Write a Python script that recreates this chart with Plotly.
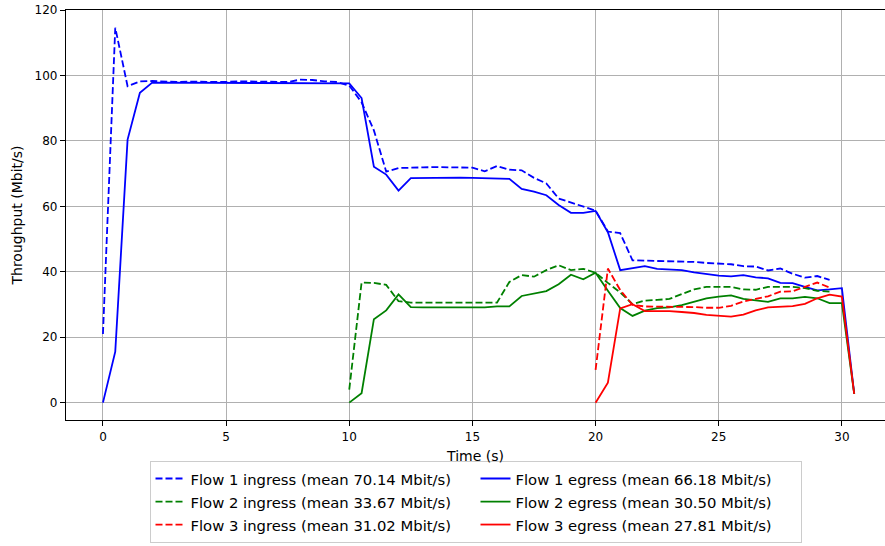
import plotly.graph_objects as go

# ---- data ----
t_f1_in = [0, 0.5, 1, 1.5, 2, 2.5, 3, 3.5, 4, 4.5, 5, 5.5, 6, 6.5, 7, 7.5, 8, 8.5, 9, 9.5,
           10, 10.5, 11, 11.5, 12, 12.5, 13, 13.5, 14, 14.5, 15, 15.5, 16, 16.5, 17, 17.5,
           18, 18.5, 19, 19.5, 20, 20.5, 21, 21.5, 22, 22.5, 23, 23.5, 24, 24.5, 25, 25.5,
           26, 26.5, 27, 27.5, 28, 28.5, 29, 29.5]
f1_in = [21, 114.6, 96.7, 98.2, 98.3, 98.1, 98.0, 98.1, 98.0, 98.1, 98.0, 98.2, 98.1, 98.0,
         98.1, 98.0, 98.7, 98.6, 98.2, 98.0,
         96.9, 91.8, 83.2, 70.6, 71.7, 71.9, 71.9, 72.0, 71.9, 71.9, 71.8, 70.7, 72.3, 71.2,
         71.0, 68.7, 67.0, 62.4, 61.2, 60.0, 58.7, 52.3, 51.8, 43.5, 43.4, 43.4, 43.3, 43.2,
         43.0, 42.7, 42.6, 42.3, 41.7, 41.6, 40.4, 41.0, 39.4, 38.2, 38.7, 37.5]

t_f1_eg = [0, 0.5, 1, 1.5, 2, 2.5, 3, 3.5, 4, 4.5, 5, 5.5, 6, 6.5, 7, 7.5, 8, 8.5, 9, 9.5,
           10, 10.5, 11, 11.5, 12, 12.5, 13, 13.5, 14, 14.5, 15, 15.5, 16, 16.5, 17, 17.5,
           18, 18.5, 19, 19.5, 20, 20.5, 21, 21.5, 22, 22.5, 23, 23.5, 24, 24.5, 25, 25.5,
           26, 26.5, 27, 27.5, 28, 28.5, 29, 29.5, 30, 30.5]
f1_eg = [0, 15.6, 80.4, 94.7, 97.8, 97.8, 97.8, 97.8, 97.8, 97.8, 97.8, 97.8, 97.8, 97.8,
         97.8, 97.8, 97.8, 97.8, 97.8, 97.8,
         97.6, 93.1, 72.1, 69.7, 64.8, 68.6, 68.7, 68.7, 68.7, 68.8, 68.7, 68.6, 68.4, 68.4,
         65.3, 64.5, 63.4, 60.4, 58.0, 58.0, 58.6, 52.1, 40.5, 41.2, 41.7, 40.9, 40.8, 40.5,
         39.8, 39.2, 38.8, 38.6, 39.0, 38.3, 38.0, 36.6, 36.5, 35.4, 34.3, 34.6, 35.0, 2.8]

t_f2_in = [10, 10.5, 11, 11.5, 12, 12.5, 13, 13.5, 14, 14.5, 15, 15.5, 16, 16.5, 17, 17.5,
           18, 18.5, 19, 19.5, 20, 20.5, 21, 21.5, 22, 22.5, 23, 23.5, 24, 24.5, 25, 25.5,
           26, 26.5, 27, 27.5, 28, 28.5, 29, 29.5]
f2_in = [4.0, 36.7, 36.6, 36.0, 31.0, 30.6, 30.6, 30.6, 30.6, 30.6, 30.6, 30.6, 30.6, 36.9,
         39.0, 38.5, 40.5, 42.0, 40.5, 40.9, 39.7, 36.6, 33.7, 30.1, 31.2, 31.4, 31.7, 33.2,
         34.6, 35.4, 35.5, 35.4, 34.6, 34.5, 35.4, 35.5, 35.4, 35.0, 34.2, 33.9]

t_f2_eg = [10, 10.5, 11, 11.5, 12, 12.5, 13, 13.5, 14, 14.5, 15, 15.5, 16, 16.5, 17, 17.5,
           18, 18.5, 19, 19.5, 20, 20.5, 21, 21.5, 22, 22.5, 23, 23.5, 24, 24.5, 25, 25.5,
           26, 26.5, 27, 27.5, 28, 28.5, 29, 29.5, 30, 30.5]
f2_eg = [0, 2.9, 25.5, 28.2, 33.1, 29.2, 29.1, 29.1, 29.1, 28.9, 29.0, 29.1, 29.4, 29.4,
         32.6, 33.4, 34.1, 36.2, 39.1, 37.7, 39.7, 34.2, 28.9, 26.5, 28.1, 28.9, 29.1, 29.8,
         30.9, 31.9, 32.4, 32.8, 31.7, 31.3, 30.8, 31.9, 31.9, 32.3, 31.9, 30.4, 30.4, 2.7]

t_f3_in = [20, 20.5, 21, 21.5, 22, 22.5, 23, 23.5, 24, 24.5, 25, 25.5,
           26, 26.5, 27, 27.5, 28, 28.5, 29, 29.5]
f3_in = [10.0, 41.0, 34.4, 29.9, 29.4, 29.4, 29.4, 29.3, 29.2, 29.0, 29.0, 29.6,
         30.9, 31.7, 32.5, 33.9, 34.0, 35.4, 36.7, 35.2]

t_f3_eg = [20, 20.5, 21, 21.5, 22, 22.5, 23, 23.5, 24, 24.5, 25, 25.5,
           26, 26.5, 27, 27.5, 28, 28.5, 29, 29.5, 30, 30.5]
f3_eg = [0, 6.1, 28.8, 30.1, 28.0, 28.0, 28.0, 27.7, 27.4, 26.8, 26.6, 26.3,
         26.9, 28.2, 29.1, 29.4, 29.5, 30.2, 31.9, 33.0, 32.4, 2.7]

names = [
    "Flow 1 ingress (mean 70.14 Mbit/s)", "Flow 1 egress (mean 66.18 Mbit/s)",
    "Flow 2 ingress (mean 33.67 Mbit/s)", "Flow 2 egress (mean 30.50 Mbit/s)",
    "Flow 3 ingress (mean 31.02 Mbit/s)", "Flow 3 egress (mean 27.81 Mbit/s)",
]
x_ticks = [0, 5, 10, 15, 20, 25, 30]
y_ticks = [0, 20, 40, 60, 80, 100, 120]

# ---- figure ----
BLUE, GREEN, RED = "#0000ff", "#008000", "#ff0000"
DASH = "7px,3px"
series = [
    (t_f1_in, f1_in, BLUE, DASH), (t_f1_eg, f1_eg, BLUE, "solid"),
    (t_f2_in, f2_in, GREEN, DASH), (t_f2_eg, f2_eg, GREEN, "solid"),
    (t_f3_in, f3_in, RED, DASH), (t_f3_eg, f3_eg, RED, "solid"),
]

fig = go.Figure()
for (tx, vy, col, dash), nm in zip(series, names):
    fig.add_trace(go.Scatter(
        x=tx, y=vy, mode="lines",
        name="<span style='font-size:14.8px'>" + nm + "</span>",
        line=dict(color=col, width=1.8, dash=dash)))

FONT = "DejaVu Sans, Liberation Sans, sans-serif"
fig.update_layout(
    width=885, height=546,
    margin=dict(l=66, r=0, t=10, b=126, autoexpand=False),
    plot_bgcolor="white", paper_bgcolor="white",
    font=dict(family=FONT, size=12, color="#000000"),
    showlegend=True,
    legend=dict(
        orientation="h", x=0.5, xanchor="center", y=-0.1, yanchor="top",
        entrywidth=280, entrywidthmode="pixels",
        font=dict(family=FONT, size=15.4, color="#000000"),
        bordercolor="#cccccc", borderwidth=1, bgcolor="white",
        tracegroupgap=0,
    ),
)
fig.update_xaxes(
    range=[-1.5, 31.75], tickvals=x_ticks, ticktext=[str(v) for v in x_ticks],
    showgrid=True, gridcolor="#b0b0b0", gridwidth=1, automargin=False,
    zeroline=False, showline=True, linecolor="black", linewidth=1.2, mirror=True,
    ticks="outside", ticklen=5, tickcolor="black",
    title=dict(text="Time (s)", font=dict(size=14, family=FONT), standoff=8),
)
fig.update_yaxes(
    range=[-5.3, 120], tickvals=y_ticks, ticktext=[str(v) for v in y_ticks],
    showgrid=True, gridcolor="#b0b0b0", gridwidth=1, automargin=False,
    zeroline=False, showline=True, linecolor="black", linewidth=1.2, mirror=False,
    ticks="outside", ticklen=5, tickcolor="black",
    title=dict(text="Throughput (Mbit/s)", font=dict(size=14, family=FONT), standoff=8),
)

fig.write_html("out.html", config={"displayModeBar": False},
               post_script="document.body.style.margin='0';document.body.style.overflow='hidden';")
